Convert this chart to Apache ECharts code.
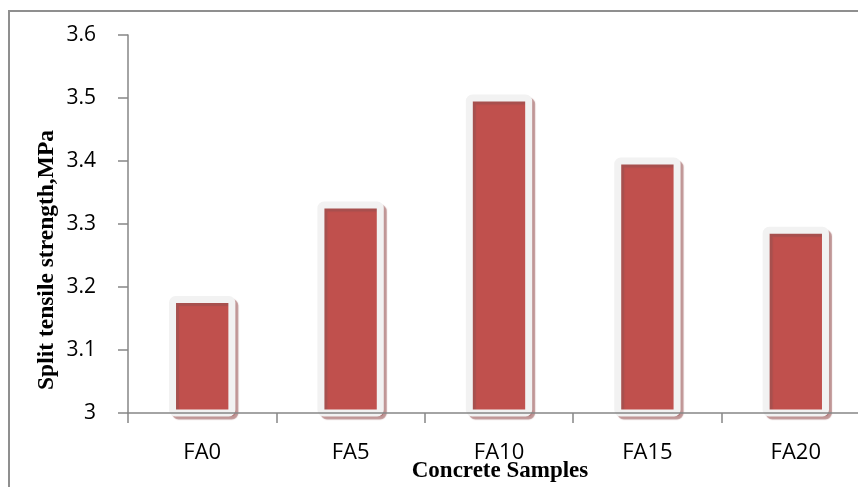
<!DOCTYPE html>
<html>
<head>
<meta charset="utf-8">
<style>
  html, body { margin: 0; padding: 0; background: #fff; overflow: hidden; width: 858px; height: 487px; }
  #chart { width: 900px; height: 487px; }
</style>
<script src="https://cdn.jsdelivr.net/npm/echarts@6/dist/echarts.min.js"></script>
</head>
<body>
<div id="chart"></div>
<script>
// Split tensile strength of concrete mixes with fly ash replacement
const samples = ['FA0', 'FA5', 'FA10', 'FA15', 'FA20'];
const strength = [3.18, 3.33, 3.50, 3.40, 3.29];
const yTicks = { min: 3, max: 3.6, step: 0.1 };
const yTitle = 'Split tensile strength,MPa';
const xTitle = 'Concrete Samples';

const chart = echarts.init(document.getElementById('chart'), null, { renderer: 'canvas' });

const axisGray = '#868686';
const labelFont = '"Open Sans", "Noto Sans", sans-serif';
const titleFont = '"Liberation Serif", "DejaVu Serif", serif';

// Bar with a light frame stroked across its edges and a soft drop shadow
function renderBar(params, api) {
  const top = api.coord([api.value(0), api.value(1)]);
  const base = api.coord([api.value(0), yTicks.min]);
  const w = api.size([1, 0])[0] * 0.4;
  return {
    type: 'rect',
    shape: { x: top[0] - w / 2, y: top[1], width: w, height: base[1] - top[1], r: 3 },
    style: {
      fill: '#C0504D',
      stroke: '#F2F2F2',
      lineWidth: 7,
      shadowColor: 'rgba(150, 80, 80, 0.6)',
      shadowBlur: 1,
      shadowOffsetX: 3,
      shadowOffsetY: 3
    }
  };
}

chart.setOption({
  animation: false,
  backgroundColor: '#ffffff',
  grid: { left: 128, top: 35, width: 742, height: 378, containLabel: false },
  xAxis: {
    type: 'category',
    data: samples,
    z: 5,
    axisLine: { lineStyle: { color: axisGray, width: 1.5 } },
    axisTick: { show: true, length: 10, lineStyle: { color: axisGray, width: 1.5 } },
    axisLabel: { color: '#000', fontFamily: labelFont, fontSize: 22, margin: 29 },
    splitLine: { show: false }
  },
  yAxis: {
    type: 'value',
    min: yTicks.min,
    max: yTicks.max,
    interval: yTicks.step,
    z: 5,
    axisLine: { show: true, lineStyle: { color: axisGray, width: 1.5 } },
    axisTick: { show: true, length: 10, lineStyle: { color: axisGray, width: 1.5 } },
    axisLabel: {
      color: '#000', fontFamily: labelFont, fontSize: 21, margin: 32,
      formatter: v => String(Math.round(v * 10) / 10)
    },
    splitLine: { show: false }
  },
  series: [{
    type: 'custom',
    z: 1,
    clip: false,
    data: samples.map((s, i) => [i, strength[i]]),
    encode: { x: 0, y: 1 },
    renderItem: renderBar
  }],
  graphic: [
    {
      type: 'rect',
      shape: { x: 9, y: 11, width: 900, height: 600 },
      style: { fill: 'none', stroke: '#8f8f8f', lineWidth: 2 },
      silent: true, z: 0
    },
    {
      type: 'text',
      x: 47, y: 260,
      rotation: Math.PI / 2,
      style: {
        text: yTitle, font: 'bold 23.5px ' + titleFont, fill: '#000',
        textAlign: 'center', textVerticalAlign: 'middle'
      }
    },
    {
      type: 'text',
      x: 500, y: 471,
      style: {
        text: xTitle, font: 'bold 23px ' + titleFont, fill: '#000',
        textAlign: 'center', textVerticalAlign: 'middle'
      }
    }
  ]
});
</script>
</body>
</html>
